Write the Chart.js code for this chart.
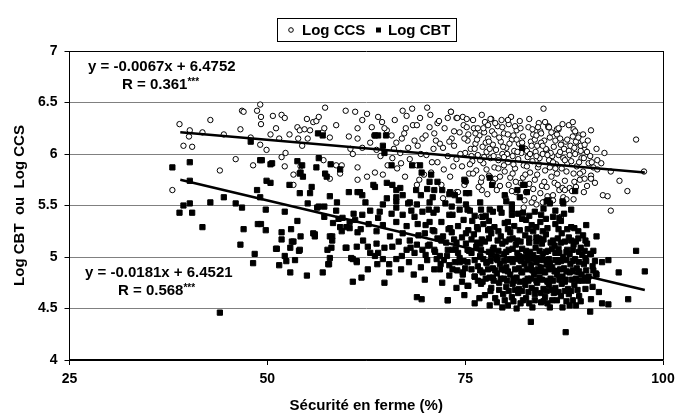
<!DOCTYPE html>
<html>
<head>
<meta charset="utf-8">
<script src="https://cdn.jsdelivr.net/npm/chart.js@4.4.0/dist/chart.umd.min.js"></script>
<style>
  html, body { margin: 0; padding: 0; background: #fff; }
  #wrap { width: 686px; height: 418px; position: relative; }
</style>
</head>
<body>
<div id="wrap"><canvas id="scatter"></canvas></div>
<script>
// axis ticks
const xTickLabels = [25, 50, 75, 100];
const yTickLabels = [4, 4.5, 5, 5.5, 6, 6.5, 7];

// Log CCS (open circles), [securite %, log value]
const ccsPoints = [
  [38.9,6.29],[40.2,6.23],[40.1,6.17],[39.4,6.08],[40.5,6.07],[41.8,6.21],[42.8,6.33],[38.0,5.65],[44.0,5.84],[44.5,6.19],
  [46.0,5.95],[46.6,6.24],[46.8,6.42],[47.0,6.41],[47.9,6.16],[48.2,5.89],[48.7,6.42],[49.1,6.48],[49.2,6.36],[49.2,6.29],
  [49.1,6.09],[49.9,6.04],[50.4,6.19],[51.1,6.25],[50.7,6.37],[51.8,6.38],[52.2,6.35],[51.5,6.15],[51.8,5.97],[52.3,6.01],
  [52.2,5.88],[52.8,6.19],[53.3,5.80],[53.3,5.70],[53.8,6.26],[54.1,6.23],[53.9,6.15],[54.4,6.08],[54.2,5.88],[54.7,6.24],
  [55.0,6.34],[55.1,6.15],[55.8,6.31],[56.2,6.32],[56.5,6.36],[57.3,6.45],[57.0,6.21],[57.2,6.25],[57.9,6.16],[58.7,6.28],
  [57.1,5.94],[57.9,5.76],[58.7,5.89],[59.2,5.81],[59.4,5.89],[59.9,6.42],[60.3,6.17],[60.5,6.05],[61.1,6.41],[61.4,6.25],
  [61.4,6.15],[61.4,5.75],[60.8,6.00],[55.4,6.23],
  [62.6,6.39],[62.0,6.33],[63.2,6.26],[64.0,6.36],[64.5,6.31],[65.1,6.23],[65.7,6.18],[66.3,6.11],[67.1,6.42],[68.3,6.44],
  [69.3,6.35],[70.2,6.45],[68.4,6.28],[70.5,6.26],[71.5,6.30],[72.4,6.25],[71.1,6.20],[69.6,6.15],[67.8,6.06],[66.8,6.01],
  [65.8,5.96],[65.2,5.89],[64.6,5.80],[63.6,5.82],[62.6,5.78],[61.4,5.87],[62.0,6.06],[63.0,6.11],[63.8,6.04],[66.4,5.86],
  [67.4,5.78],[68.9,5.70],[70.7,5.82],[73.1,5.78],[71.5,5.92],[68.9,5.89],[70.1,5.99],[72.2,6.06],[73.3,6.15],[73.9,5.63],
  [72.2,5.57],[74.9,5.70],[77.1,5.65],[67.6,6.37],[71.7,6.32],[73.2,6.41],[73.9,6.35],[68.9,6.28],[64.8,6.25],[67.0,6.15],
  [68.0,5.95],[69.0,6.08],[70.0,6.18],[70.8,5.92],[71.8,6.10],[72.8,5.98],[73.6,6.22],[69.8,5.80],[72.0,5.70],[73.5,5.88],
  [67.5,6.25],[66.0,6.05],[71.0,6.05],[73.0,6.12],
  [63.5,6.18],[64.3,5.98],[66.1,6.33],[67.3,6.20],[68.6,6.13],[69.4,6.00],[70.6,6.38],[71.3,6.13],[72.3,5.85],[72.8,6.35],
  [66.9,5.91],[69.2,5.75],
  [73.6,6.08],[73.9,5.95],[74.3,6.21],[74.6,5.88],[74.8,6.28],[75.0,6.01],[75.3,6.13],[75.5,5.81],[75.7,6.05],[75.9,5.93],
  [76.1,6.25],[76.3,6.10],[76.4,5.84],[76.6,5.99],[76.8,6.18],[77.0,5.73],[77.2,6.07],[77.3,5.91],[77.5,6.31],[77.7,6.02],
  [77.9,6.15],[78.0,5.79],[78.2,5.96],[78.4,6.22],[78.5,6.09],[78.7,5.87],[78.9,6.04],[79.1,6.27],[79.2,5.94],[79.4,5.69],
  [79.5,6.12],[79.7,6.00],[79.9,6.20],[80.0,5.83],[80.2,6.06],[80.4,5.92],[80.5,6.29],[80.7,5.77],[80.9,6.14],[81.0,5.98],
  [81.2,6.03],[81.3,5.86],[81.5,6.23],[81.7,5.95],[81.8,6.10],[82.0,5.72],[82.1,6.01],[82.3,6.17],[82.4,5.89],[82.6,6.05],
  [82.7,5.63],[82.9,5.97],[83.0,6.26],[83.2,5.82],[83.3,6.12],[83.5,5.93],[83.6,6.19],[83.8,5.75],[83.9,6.02],[84.1,6.08],
  [84.2,5.87],[84.4,5.96],[84.5,6.22],[84.7,5.69],[84.8,6.00],[85.0,6.13],[85.1,5.84],[85.3,6.04],[85.4,5.59],[85.6,5.94],
  [85.7,6.16],[85.9,5.78],[86.0,5.98],[86.2,6.07],[86.3,5.72],[86.5,5.90],[86.6,6.19],[86.8,5.99],[86.9,5.65],[87.1,6.09],
  [87.2,5.86],[87.4,5.96],[87.6,5.74],[87.7,6.12],[87.9,5.91],[88.1,6.03],[88.2,5.67],[88.4,5.93],[88.6,6.17],[88.7,5.81],
  [88.9,6.00],[89.1,5.88],[89.3,6.11],[89.5,5.75],[89.7,5.96],[89.9,5.83],[90.1,6.04],[90.4,5.69],[90.6,5.91],[90.9,5.79],
  [74.1,5.63],[74.7,6.36],[75.1,5.73],[76.0,6.33],[76.7,5.68],[77.1,6.38],[77.8,5.61],[78.3,6.34],[79.0,5.65],[79.6,6.33],
  [80.1,5.58],[80.8,6.36],[81.4,5.63],[81.9,6.32],[82.5,5.55],[83.1,6.34],[83.7,5.57],[84.3,6.30],[84.9,5.53],[85.5,6.27],
  [86.1,5.55],[86.8,6.24],[87.4,5.58],[88.1,6.28],[88.7,5.56],[89.4,6.18],[90.0,5.63],[90.5,6.13],
  [75.4,6.19],[75.8,5.98],[76.5,6.14],[77.4,5.97],[77.6,6.11],[78.1,6.05],[78.6,5.98],[79.3,6.16],[79.8,6.07],[80.3,6.00],
  [80.6,6.10],[81.1,6.18],[81.6,6.02],[82.2,6.11],[82.8,6.03],[83.4,6.08],[84.0,5.98],[84.6,6.11],[85.2,6.05],[85.8,6.01],
  [86.4,6.13],[87.0,6.02],[87.5,6.05],[88.3,6.08],[89.0,6.12],[89.6,6.03],[90.8,5.98],[91.2,5.87],
  [77.7,5.85],[78.8,5.76],[79.9,5.89],[81.0,5.81],[82.3,5.77],[83.1,5.71],[84.1,5.80],[85.0,5.73],[85.7,5.87],[86.6,5.81],
  [87.8,5.83],[88.8,5.73],[89.5,5.81],
  [74.4,6.00],[74.9,6.15],[75.6,5.90],[76.2,6.05],[76.9,5.94],[77.4,6.21],[78.0,6.12],[78.7,6.19],[79.2,5.86],[79.9,5.97],
  [80.4,6.19],[81.1,5.90],[81.5,6.14],[82.0,6.25],[82.6,5.80],[83.2,6.00],[83.8,6.14],[84.3,5.90],[84.8,6.08],[85.4,5.99],
  [85.9,6.21],[86.4,5.86],[87.0,6.15],[87.6,5.94],[88.2,5.99],[88.8,6.06],[89.4,5.92],[90.0,5.96],[90.4,6.02],[91.0,5.92],
  [76.0,5.81],[77.1,5.77],[78.5,5.72],[80.5,5.70],[81.4,5.73],[83.6,5.66],[84.5,5.62],[85.3,5.68],[86.7,5.70],[87.3,5.67],
  [88.5,5.64],[89.0,5.68],[90.1,5.76],[80.9,5.64],[79.4,5.78],[82.8,5.88],[86.1,5.92],[87.9,6.14],[84.2,6.26],[81.3,6.27],
  [78.8,6.30],[76.3,6.20],[83.5,6.24],[85.1,6.31],[87.3,6.29],[89.9,6.19],
  [84.9,6.44],[88.6,6.31],[88.7,6.24],[88.9,6.22],[85.5,6.26],[86.6,6.24],[80.4,6.33],[79.7,6.26],[77.3,6.25],[78.2,6.34],
  [77.9,6.28],[75.2,6.34],[75.2,6.26],[76.6,6.25],[74.0,6.35],[73.2,6.41],[86.8,6.25],[85.6,6.26],[84.6,6.20],[84.0,6.18],
  [89.6,6.08],
  [82.4,5.48],[84.0,5.51],[84.8,5.53],[83.4,5.53],[85.5,5.54],[86.1,5.60],[87.8,5.56],[87.6,5.65],[87.1,5.39],[93.4,5.45],
  [77.0,5.39],
  [91.6,6.05],[91.7,5.94],[91.7,5.85],[90.9,5.76],[91.4,5.72],[92.4,5.60],[93.0,5.59],[94.5,5.74],[95.5,5.64],[96.6,6.14],
  [97.6,5.83],[90.9,6.23],[89.3,6.16],[90.1,6.09],[92.6,6.01],[93.4,5.83],[92.2,5.91]
];

// Log CBT (filled squares)
const cbtPoints = [
  [38.0,5.87],[38.9,5.43],[39.4,5.50],[40.2,5.92],[40.2,5.74],[40.2,5.52],[40.5,5.43],[41.8,5.29],[42.8,5.53],[44.0,4.46],
  [44.5,5.58],[46.0,5.52],[46.6,5.12],[46.8,5.48],[47.0,5.27],[47.9,6.12],[48.2,4.94],[48.4,5.03],[48.7,5.65],[48.8,5.32],
  [49.2,5.32],[49.1,5.58],[49.1,5.94],[49.3,5.94],[49.8,5.46],[49.8,5.26],[49.9,5.74],[50.4,5.72],[50.4,5.90],[51.1,5.08],
  [51.5,4.92],[51.8,5.24],[51.8,5.17],[52.2,5.01],[52.2,5.44],[52.4,4.96],[52.8,5.70],[52.9,4.85],[53.1,5.15],[53.5,4.97],
  [53.8,5.35],[53.8,5.93],[54.0,5.06],[54.1,5.62],[54.2,5.20],[54.2,5.82],[54.4,5.89],[54.5,5.78],[55.0,4.82],[55.1,5.52],
  [55.4,5.62],[55.6,5.68],[55.8,5.23],[56.0,5.20],[56.2,5.87],[56.3,5.48],[56.5,5.49],[56.5,5.96],[57.0,4.85],[57.2,5.49],
  [57.2,5.39],[57.3,5.81],[57.5,5.78],[57.8,4.93],[57.9,4.99],[57.9,5.59],[57.9,5.20],[58.0,5.90],[58.2,5.16],[58.3,5.33],
  [58.7,5.45],[58.8,5.53],[59.0,5.37],[59.2,5.85],[59.2,5.29],[59.4,5.25],[59.5,5.38],[59.9,5.09],[60.0,5.29],[60.3,5.63],
  [60.6,4.99],[60.8,4.76],[60.9,5.42],[61.1,5.36],[61.3,4.96],[61.4,5.63],[61.4,5.24],
  [50.6,5.91],[54.1,5.81],[62.4,5.53],[63.6,5.68],[65.1,5.72],[66.3,5.65],[61.7,5.63],[53.0,5.27],[53.3,5.15],[51.2,5.08],
  [52.9,5.09],[54.1,5.07],[56.0,5.22],[58.2,5.20],[58.1,5.09],[60.0,5.09],[61.3,5.10],[62.1,5.16],[62.7,5.10],[63.8,5.13],
  [63.0,5.04],[64.0,5.04],[63.6,5.01],[64.8,5.09],[65.8,5.10],[64.6,4.98],[66.3,4.98],[65.4,4.93],[57.7,4.93],[60.8,4.98],
  [61.3,4.95],[57.6,5.07],[60.4,5.28],[61.8,5.27],[60.4,5.34],[62.0,5.41],[64.2,5.44],[64.0,5.38],[66.3,5.34],[67.1,5.41],
  [66.3,5.48],[68.6,5.39],[69.6,5.44],[70.5,5.34],[69.9,5.23],[71.1,5.25],[72.2,5.20],[73.1,5.28],[73.4,5.41],[74.3,5.46],
  [75.1,5.51],[76.9,5.53],[77.2,5.39],[78.5,5.44],[78.1,5.27],[76.5,5.29],[75.1,5.23],[67.1,5.23],[68.0,5.16],[67.6,5.07],
  [68.6,5.04],[68.9,5.12],[69.6,5.07],[70.5,5.12],[71.1,5.07],[71.4,4.98],[72.7,5.01],[73.4,5.07],[73.9,5.14],[74.3,4.95],
  [75.3,5.07],[76.5,5.14],[76.9,5.01],[77.7,4.95],[78.5,5.07],[79.0,4.98],[73.4,4.88],[74.7,4.85],[76.2,4.81],[77.2,4.76],
  [78.5,4.80],[75.3,4.72],[74.6,4.76],[64.8,4.75],[61.9,4.80],[68.9,4.61],[69.5,4.59],[72.8,4.58],[76.2,4.55],[78.1,4.53],
  [65.4,4.85],[68.5,4.83],[69.4,4.90],[71.1,4.88],[71.8,4.88],[73.0,4.82],
  [62.8,5.32],[63.8,5.25],[64.6,5.31],[65.5,5.20],[66.6,5.15],[67.6,5.30],[68.2,5.45],[69.0,5.32],[65.1,5.57],[67.8,5.52],
  [69.4,5.60],[70.9,5.58],[72.5,5.52],[74.2,5.55],[62.7,4.88],[63.9,4.93],[66.9,4.88],[67.9,4.95],[70.2,4.97],[71.9,4.93],
  [73.7,4.95],[75.0,4.89],[69.9,4.78],[72.1,4.75],[73.9,4.70],[74.9,4.63],[76.8,4.60],[66.3,5.58],[68.8,5.65],[70.2,5.66],
  [63.0,5.45],[65.7,5.42],[68.1,5.09],[70.0,5.02],[67.0,5.01],
  [63.6,6.18],[64.6,6.08],[64.8,6.01],[65.7,5.89],[68.3,5.89],[69.3,5.89],[69.5,5.82],[70.7,5.80],[70.5,5.73],[71.5,5.73],
  [72.1,5.65],[71.1,5.65],[74.9,5.75],[78.1,5.77],[78.4,5.70],[82.2,6.06],[82.3,5.70],[82.8,5.63],[85.3,5.54],[85.7,5.52],
  [87.3,5.54],[88.9,5.64],[80.0,5.60],[80.2,5.54],[80.9,5.51],[75.5,5.62],[73.1,5.63],[73.7,5.60],[64.6,5.51],[62.0,5.60],
  [63.4,5.70],[65.8,5.70],[66.8,5.67],[67.1,5.60],[66.3,5.54],[68.0,5.53],[68.9,5.51],[70.5,5.53],[70.4,5.46],[71.4,5.46],
  [73.3,5.49],[75.3,5.46],[78.1,5.46],[79.6,5.43],[80.9,5.41],[82.3,5.43],[84.6,5.41],[86.9,5.38],[88.4,5.46],[56.4,6.20],
  [57.0,6.18],[65.0,6.18],[64.0,6.18],
  [71.0,5.43],[73.0,5.41],[75.6,5.45],[77.6,5.40],[79.4,5.47],[81.7,5.42],[83.8,5.44],[86.1,5.39],[82.7,5.36],[80.4,5.34],
  [74.8,5.36],[76.2,5.40],[77.0,5.46],[78.0,5.35],[80.9,5.46],[83.1,5.40],[85.2,5.37],[84.9,5.47],[87.5,5.42],
  [70.0,5.31],[72.0,5.34],[74.1,5.30],[75.9,5.35],[77.3,5.32],[78.7,5.29],[80.0,5.33],[81.2,5.30],[82.2,5.37],[83.4,5.31],
  [84.5,5.34],[85.4,5.28],[86.4,5.32],[87.9,5.27],[89.3,5.25],[90.3,5.31],
  [70.9,5.26],[72.9,5.27],[75.4,5.26],[76.6,5.27],[77.9,5.26],[79.2,5.25],[80.4,5.27],[81.9,5.26],[82.9,5.27],[84.0,5.29],
  [84.8,5.25],[86.8,5.27],[88.8,5.28],
  [69.1,5.21],[71.5,5.18],[73.3,5.24],[74.6,5.19],[76.1,5.22],[77.1,5.17],[78.3,5.23],[79.5,5.20],[80.7,5.24],[81.6,5.16],
  [82.6,5.21],[83.6,5.25],[84.3,5.18],[85.2,5.22],[86.1,5.16],[87.2,5.23],[88.1,5.19],[89.0,5.15],[89.9,5.21],
  [72.0,5.16],[73.6,5.17],[75.8,5.17],[76.9,5.13],[78.0,5.18],[79.1,5.16],[80.1,5.15],[81.0,5.18],[82.0,5.15],[83.1,5.18],
  [84.0,5.15],[84.9,5.17],[85.8,5.14],[86.7,5.18],[87.6,5.15],[88.4,5.16],[89.3,5.18],[90.2,5.16],
  [70.3,5.11],[72.6,5.14],[73.8,5.08],[75.1,5.13],[76.4,5.10],[77.5,5.15],[78.6,5.09],[79.7,5.13],[80.5,5.07],[81.4,5.12],
  [82.2,5.08],[83.1,5.14],[83.9,5.09],[84.7,5.13],[85.5,5.06],[86.3,5.11],[87.1,5.14],[87.9,5.07],[88.7,5.12],[89.6,5.09],
  [90.4,5.13],
  [71.2,5.05],[72.8,5.07],[74.1,5.04],[75.5,5.06],[77.0,5.07],[78.3,5.02],[79.2,5.06],[80.2,5.05],[81.0,5.08],[81.8,5.01],
  [82.7,5.06],[83.6,5.02],[84.4,5.06],[85.2,5.05],[86.0,5.08],[86.9,5.04],[87.8,5.05],[88.6,5.07],[89.4,5.05],[90.1,5.06],
  [91.2,5.06],
  [71.8,5.01],[74.3,4.99],[75.8,5.04],[76.9,5.00],[78.0,5.05],[78.9,4.99],[79.9,5.03],[80.8,4.98],[81.6,5.04],[82.4,5.00],
  [83.2,5.05],[84.1,4.99],[84.8,5.03],[85.6,4.98],[86.4,5.04],[87.4,5.00],[88.2,5.03],[88.9,4.98],[89.8,5.02],[90.8,5.03],
  [72.3,4.97],[74.8,4.96],[76.2,4.97],[77.3,4.98],[78.2,4.96],[79.1,4.97],[79.9,4.96],[80.6,4.97],[81.4,4.98],[82.1,4.96],
  [82.9,4.97],[83.6,4.98],[84.4,4.97],[85.0,4.97],[85.7,4.94],[86.4,4.97],[87.1,4.96],[87.8,4.97],[88.6,4.96],[89.4,4.95],
  [90.3,4.96],[91.4,4.96],
  [73.0,4.92],[75.3,4.95],[76.6,4.91],[77.7,4.94],[78.5,4.89],[79.4,4.93],[80.2,4.90],[81.0,4.95],[81.8,4.89],[82.5,4.93],
  [83.3,4.91],[84.0,4.95],[84.6,4.89],[85.3,4.94],[86.0,4.90],[86.7,4.95],[87.5,4.89],[88.3,4.93],[89.1,4.89],[90.0,4.93],
  [91.1,4.91],[92.3,4.95],
  [74.0,4.87],[75.8,4.88],[76.9,4.87],[77.9,4.88],[78.8,4.87],[79.6,4.88],[80.4,4.86],[81.3,4.88],[82.1,4.86],[82.8,4.88],
  [83.5,4.87],[84.2,4.88],[84.9,4.86],[85.6,4.88],[86.3,4.86],[87.0,4.88],[87.8,4.86],[88.6,4.87],[89.4,4.86],[90.3,4.87],
  [91.2,4.87],
  [74.7,4.83],[76.2,4.81],[77.2,4.85],[78.1,4.80],[79.0,4.84],[79.9,4.79],[80.7,4.83],[81.5,4.80],[82.2,4.85],[82.9,4.79],
  [83.7,4.83],[84.4,4.80],[85.1,4.85],[85.8,4.79],[86.6,4.83],[87.3,4.81],[88.2,4.85],[89.0,4.79],[89.7,4.83],[90.6,4.81],
  [91.5,4.84],[94.4,4.85],
  [76.6,4.77],[77.6,4.79],[78.6,4.77],[79.5,4.79],[80.3,4.77],[81.1,4.79],[81.9,4.76],[82.6,4.77],[83.3,4.79],[84.0,4.77],
  [84.7,4.78],[85.4,4.76],[86.1,4.77],[86.9,4.78],[87.6,4.76],[88.5,4.78],[89.3,4.77],[90.1,4.78],
  [75.4,4.72],[77.0,4.74],[78.3,4.70],[79.3,4.75],[80.2,4.71],[81.0,4.74],[81.8,4.69],[82.6,4.73],[83.4,4.70],[84.1,4.75],
  [84.9,4.69],[85.6,4.73],[86.4,4.70],[87.2,4.74],[88.0,4.69],[88.8,4.73],[89.8,4.77],[90.5,4.77],[91.1,4.71],
  [78.2,4.67],[79.3,4.68],[80.5,4.67],[81.3,4.68],[82.2,4.67],[83.0,4.66],[83.9,4.68],[84.6,4.65],[85.3,4.67],[86.0,4.68],
  [86.8,4.66],[87.6,4.67],[88.4,4.67],[89.2,4.68],[90.2,4.69],
  [77.5,4.63],[78.8,4.60],[79.8,4.64],[80.9,4.61],[81.7,4.65],[82.7,4.60],[83.8,4.64],[85.1,4.61],[86.2,4.65],[87.1,4.62],
  [88.1,4.64],[89.4,4.62],[91.9,4.66],[90.9,4.59],[95.6,4.59],
  [80.0,4.58],[81.1,4.57],[82.0,4.55],[83.8,4.58],[84.9,4.57],[85.4,4.55],[86.0,4.58],[87.8,4.57],[88.6,4.58],[89.6,4.57],
  [72.8,4.58],[79.0,4.56],[79.7,4.51],[80.4,4.53],[81.5,4.50],[82.3,4.58],[83.1,4.55],[83.5,4.51],[84.6,4.56],[85.7,4.51],
  [86.6,4.58],[87.3,4.51],[88.2,4.53],[89.0,4.53],[90.8,4.47],[92.3,4.55],[93.1,4.54],[83.3,4.37],[87.7,4.27],
  [96.6,5.06],[97.7,4.86],[93.1,4.97],[91.6,5.20],[91.6,4.83],[88.4,5.29],[87.1,5.35],[90.9,5.03],[90.2,4.99],[86.4,5.45],
  [80.0,4.87],[82.0,4.97],[84.3,4.86],[86.9,4.97],[83.0,4.77],[85.4,4.77],[81.2,4.77],[87.7,4.78],[84.0,5.19],[86.8,5.08],
  [82.9,5.02],[80.6,5.17],
  [75.1,5.62],[75.0,5.74],[81.6,5.65],[82.5,5.70],[81.9,5.58],[85.5,5.55],[87.4,5.52],[73.0,5.61]
];

// fitted lines, end points
const ccsTrend = [[39.0, 6.21], [97.7, 5.82]];
const cbtTrend = [[39.0, 5.75], [97.7, 4.68]];

const ccsLabel = 'y = -0.0067x + 6.4752';
const ccsR = 'R = 0.361';
const cbtLabel = 'y = -0.0181x + 6.4521';
const cbtR = 'R = 0.568';

function toXY(arr) {
    return arr.map(p => ({ x: p[0], y: p[1] }));
}

const FONT = '"Liberation Sans", Arial, sans-serif';

const overlay = {
    id: 'overlay',
    beforeDatasetsDraw(chart) {
        const ctx = chart.ctx;
        const a = chart.chartArea;
        ctx.save();
        ctx.strokeStyle = '#000';
        ctx.lineWidth = 1;
        ctx.beginPath();
        ctx.moveTo(Math.round(a.right) + 0.5, a.top);
        ctx.lineTo(Math.round(a.right) + 0.5, a.bottom);
        ctx.stroke();
        ctx.restore();
    },
    afterDraw(chart) {
        const ctx = chart.ctx;
        ctx.save();
        // legend box
        ctx.strokeStyle = '#000';
        ctx.lineWidth = 1;
        ctx.strokeRect(277.5, 18.5, 179, 23);
        ctx.fillStyle = '#000';
        ctx.font = 'bold 15px ' + FONT;
        ctx.textBaseline = 'middle';
        ctx.beginPath();
        ctx.arc(291, 30, 2.3, 0, Math.PI * 2);
        ctx.stroke();
        ctx.fillText('Log CCS', 302, 30.5);
        ctx.fillRect(376, 27.5, 5, 5);
        ctx.fillText('Log CBT', 388, 30.5);

        // equations
        function eq(line1, line2, x1, y1, x2, y2) {
            ctx.font = 'bold 15px ' + FONT;
            ctx.fillText(line1, x1, y1);
            ctx.fillText(line2, x2, y2);
            const w = ctx.measureText(line2).width;
            ctx.font = 'bold 10px ' + FONT;
            ctx.fillText('***', x2 + w, y2 - 3);
        }
        eq(ccsLabel, ccsR, 88, 67, 122, 85);
        eq(cbtLabel, cbtR, 85, 273, 118, 291);
        ctx.restore();
    }
};

const tickFont = { family: FONT, size: 14, weight: 'bold' };
const titleFont = { family: FONT, size: 15, weight: 'bold' };

new Chart(document.getElementById('scatter'), {
    type: 'scatter',
    data: {
        datasets: [
            {
                label: 'Log CCS fit',
                data: toXY(ccsTrend),
                type: 'line',
                showLine: true,
                borderColor: '#000',
                borderWidth: 2.5,
                pointRadius: 0,
                order: 0
            },
            {
                label: 'Log CBT fit',
                data: toXY(cbtTrend),
                type: 'line',
                showLine: true,
                borderColor: '#000',
                borderWidth: 2.5,
                pointRadius: 0,
                order: 0
            },
            {
                label: 'Log CBT',
                data: toXY(cbtPoints),
                pointStyle: 'rect',
                pointRadius: 3.7,
                backgroundColor: '#000',
                borderColor: '#000',
                borderWidth: 1,
                order: 1
            },
            {
                label: 'Log CCS',
                data: toXY(ccsPoints),
                pointStyle: 'circle',
                pointRadius: 2.7,
                backgroundColor: '#fff',
                borderColor: '#000',
                borderWidth: 1,
                order: 2
            }
        ]
    },
    options: {
        responsive: true,
        maintainAspectRatio: false,
        devicePixelRatio: 1,
        animation: false,
        events: [],
        layout: { padding: { left: 0, right: 23, top: 51, bottom: 0 } },
        plugins: {
            legend: { display: false },
            tooltip: { enabled: false }
        },
        scales: {
            x: {
                type: 'linear',
                min: 25,
                max: 100,
                afterBuildTicks: s => { s.ticks = xTickLabels.map(v => ({ value: v })); },
                afterFit: s => { s.height = 58; },
                grid: { drawOnChartArea: false, color: '#000', tickLength: 5 },
                border: { color: '#000', width: 1.5 },
                ticks: { font: tickFont, color: '#000', padding: 6, maxRotation: 0 },
                title: {
                    display: true,
                    text: 'Sécurité en ferme (%)',
                    font: titleFont,
                    color: '#000',
                    padding: { top: 0, bottom: 3 }
                }
            },
            y: {
                min: 4,
                max: 7,
                afterBuildTicks: s => { s.ticks = yTickLabels.map(v => ({ value: v })); },
                afterFit: s => { s.width = 69.5; },
                grid: {
                    color: c => (c.tick && (c.tick.value === 7 || c.tick.value === 4)) ? '#000' : '#808080',
                    tickColor: '#000',
                    tickLength: 5
                },
                border: { color: '#000', width: 1 },
                ticks: {
                    font: tickFont,
                    color: '#000',
                    padding: 7,
                    callback: v => String(v)
                },
                title: {
                    display: true,
                    text: 'Log CBT  ou  Log CCS',
                    font: titleFont,
                    color: '#000',
                    padding: { top: 11, bottom: 0 }
                }
            }
        }
    },
    plugins: [overlay]
});
</script>
</body>
</html>
